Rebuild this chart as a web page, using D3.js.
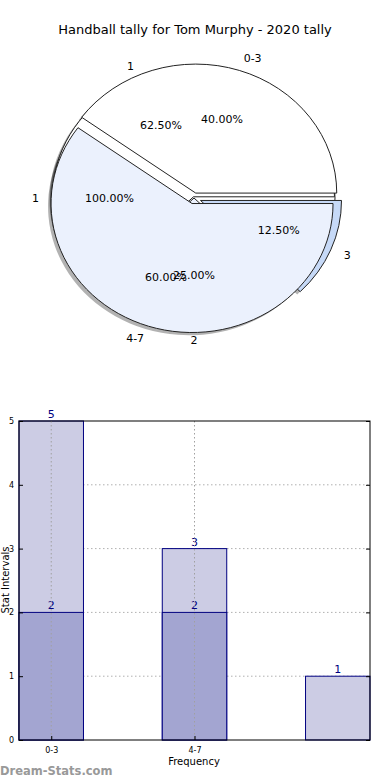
<!DOCTYPE html>
<meta charset="utf-8">
<style>
    body { margin: 0; background: #fff; }
    text { font-family: "DejaVu Sans", sans-serif; }
</style>
<body>
<script src="https://cdn.jsdelivr.net/npm/d3@7"></script>
<script>

    var width = 390,
        height = 780;

    // pie data (three overlaid pies)
    var rangeLabels = ["0-3", "4-7"],
        rangeValues = [2, 3];
    var tallyLabels = ["1", "2", "3"],
        tallyValues = [5, 2, 1];
    var singleLabels = ["1"],
        singleValues = [1];

    // bar data
    var categories = ["0-3", "4-7", ""],
        backValues = [5, 3, 1],
        frontValues = [2, 2, 0];

    var svg = d3.select("body").append("svg")
        .attr("width", width)
        .attr("height", height);

    svg.append("text")
        .attr("x", 195)
        .attr("y", 34)
        .attr("text-anchor", "middle")
        .style("font-size", "13px")
        .text("Handball tally for Tom Murphy - 2020 tally");

    // ---- pie ----
    var cx = 194, cy = 198, rx = 141, ry = 129;

    // matplotlib style: start at 3 o'clock, go counter-clockwise
    var pie = d3.pie().sort(null)
        .startAngle(Math.PI / 2)
        .endAngle(Math.PI / 2 - 2 * Math.PI);

    var arc = d3.arc().innerRadius(0).outerRadius(rx);

    function mid(d) { return (d.startAngle + d.endAngle) / 2; }

    var layers = [
        { labels: singleLabels, values: singleValues, colors: ["#ffffff"], explode: [0] },
        { labels: tallyLabels, values: tallyValues, colors: ["#ffffff", "#ebf1fd", "#c6d9f7"], explode: [0.01, 0, 0.05] },
        { labels: rangeLabels, values: rangeValues, colors: ["#ffffff", "#ebf1fd"], explode: [0.04, 0.045] }
    ];

    var pieG = svg.append("g")
        .attr("transform", "translate(" + cx + "," + cy + ") scale(1," + (ry / rx) + ")");

    function offset(layer) {
        return function(d, i) {
            var e = layer.explode[i] * rx;
            return [Math.sin(mid(d)) * e, -Math.cos(mid(d)) * e];
        };
    }

    // shadows first
    layers.forEach(function(layer) {
        var off = offset(layer);
        pieG.append("g").selectAll("path")
            .data(pie(layer.values))
            .enter().append("path")
            .attr("transform", function(d, i) {
                var o = off(d, i);
                return "translate(" + (o[0] - 3) + "," + (o[1] + 3) + ")";
            })
            .attr("fill", "#000")
            .attr("fill-opacity", 0.3)
            .attr("d", arc);
    });

    layers.forEach(function(layer) {
        var off = offset(layer);
        pieG.append("g").selectAll("path")
            .data(pie(layer.values))
            .enter().append("path")
            .attr("transform", function(d, i) {
                var o = off(d, i);
                return "translate(" + o[0] + "," + o[1] + ")";
            })
            .attr("fill", function(d, i) { return layer.colors[i]; })
            .attr("stroke", "#222")
            .attr("stroke-width", 1)
            .attr("vector-effect", "non-scaling-stroke")
            .attr("d", arc);
    });

    // labels and percentages
    layers.forEach(function(layer) {
        var arcs = pie(layer.values),
            total = d3.sum(layer.values);
        arcs.forEach(function(d, i) {
            var a = mid(d), e = layer.explode[i],
                sx = Math.sin(a), sy = -Math.cos(a);
            svg.append("text")
                .attr("x", cx + sx * rx * (1.1 + e))
                .attr("y", cy + sy * ry * (1.1 + e))
                .attr("dy", "0.35em")
                .attr("text-anchor", Math.abs(sx) < 0.01 ? "middle" : (sx > 0 ? "start" : "end"))
                .style("font-size", "11px")
                .text(layer.labels[i]);
            svg.append("text")
                .attr("x", cx + sx * rx * (0.6 + e))
                .attr("y", cy + sy * ry * (0.6 + e))
                .attr("dy", "0.35em")
                .attr("text-anchor", "middle")
                .style("font-size", "11px")
                .text(d3.format(".2f")(layer.values[i] / total * 100) + "%");
        });
    });

    // ---- bars ----
    var m = { left: 19, right: 370, top: 421, bottom: 740 };
    var barW = 0.45;

    var x = d3.scaleLinear()
        .domain([-barW / 2, categories.length - 1 + barW / 2])
        .range([m.left, m.right]);

    var y = d3.scaleLinear()
        .domain([0, 5])
        .range([m.bottom, m.top]);

    var bw = x(barW) - x(0);

    // horizontal grid behind bars
    svg.append("g")
        .attr("stroke", "#b0b0b0")
        .attr("stroke-dasharray", "1.5,2.5")
        .selectAll("line")
        .data(y.ticks(5).slice(1, -1))
        .enter().append("line")
        .attr("x1", m.left).attr("x2", m.right)
        .attr("y1", function(d) { return y(d); })
        .attr("y2", function(d) { return y(d); });

    function drawBarSet(vals, fill) {
        var g = svg.append("g");
        vals.forEach(function(v, i) {
            if (!v) return;
            g.append("rect")
                .attr("x", x(i) - bw / 2)
                .attr("width", bw)
                .attr("y", y(v))
                .attr("height", y(0) - y(v))
                .attr("fill", fill)
                .attr("stroke", "#000080")
                .attr("stroke-width", 1);
            g.append("text")
                .attr("x", x(i))
                .attr("y", y(v) - 3)
                .attr("text-anchor", "middle")
                .attr("fill", "#000080")
                .style("font-size", "11px")
                .text(v);
        });
    }

    drawBarSet(backValues, "#ccccE4");
    drawBarSet(frontValues, "#a3a5d1");

    // vertical grid for labelled ticks, drawn over the bars
    svg.append("g")
        .attr("stroke", "#a0a0a0")
        .attr("stroke-dasharray", "1.5,2.5")
        .selectAll("line")
        .data([0, 1])
        .enter().append("line")
        .attr("x1", function(d) { return x(d); })
        .attr("x2", function(d) { return x(d); })
        .attr("y1", m.top).attr("y2", m.bottom);

    // frame
    svg.append("rect")
        .attr("x", m.left).attr("y", m.top)
        .attr("width", m.right - m.left).attr("height", m.bottom - m.top)
        .attr("fill", "none").attr("stroke", "#000").attr("stroke-width", 1);

    // y axis: ticks inside, both sides
    var gy = svg.append("g")
        .attr("transform", "translate(" + m.left + ",0)")
        .call(d3.axisLeft(y).ticks(5).tickSize(-4).tickPadding(5));
    gy.select(".domain").remove();
    gy.selectAll("text").style("font-size", "8px");

    var gyr = svg.append("g")
        .attr("transform", "translate(" + m.right + ",0)")
        .call(d3.axisRight(y).ticks(5).tickSize(-4).tickFormat(""));
    gyr.select(".domain").remove();

    var gx = svg.append("g")
        .attr("transform", "translate(0," + m.bottom + ")")
        .call(d3.axisBottom(x)
            .tickValues([0, 1])
            .tickFormat(function(d) { return categories[d]; })
            .tickSize(-4).tickPadding(7));
    gx.select(".domain").remove();
    gx.selectAll("text").style("font-size", "8px");

    svg.append("text")
        .attr("x", 194)
        .attr("y", 765)
        .attr("text-anchor", "middle")
        .style("font-size", "10px")
        .text("Frequency");

    svg.append("text")
        .attr("transform", "translate(5,580) rotate(-90)")
        .attr("dy", "0.35em")
        .attr("text-anchor", "middle")
        .style("font-size", "10px")
        .text("Stat Intervals");

    svg.append("text")
        .attr("x", 0)
        .attr("y", 775)
        .attr("fill", "#999")
        .style("font-size", "11.5px")
        .style("font-weight", "bold")
        .text("Dream-Stats.com");

</script>
